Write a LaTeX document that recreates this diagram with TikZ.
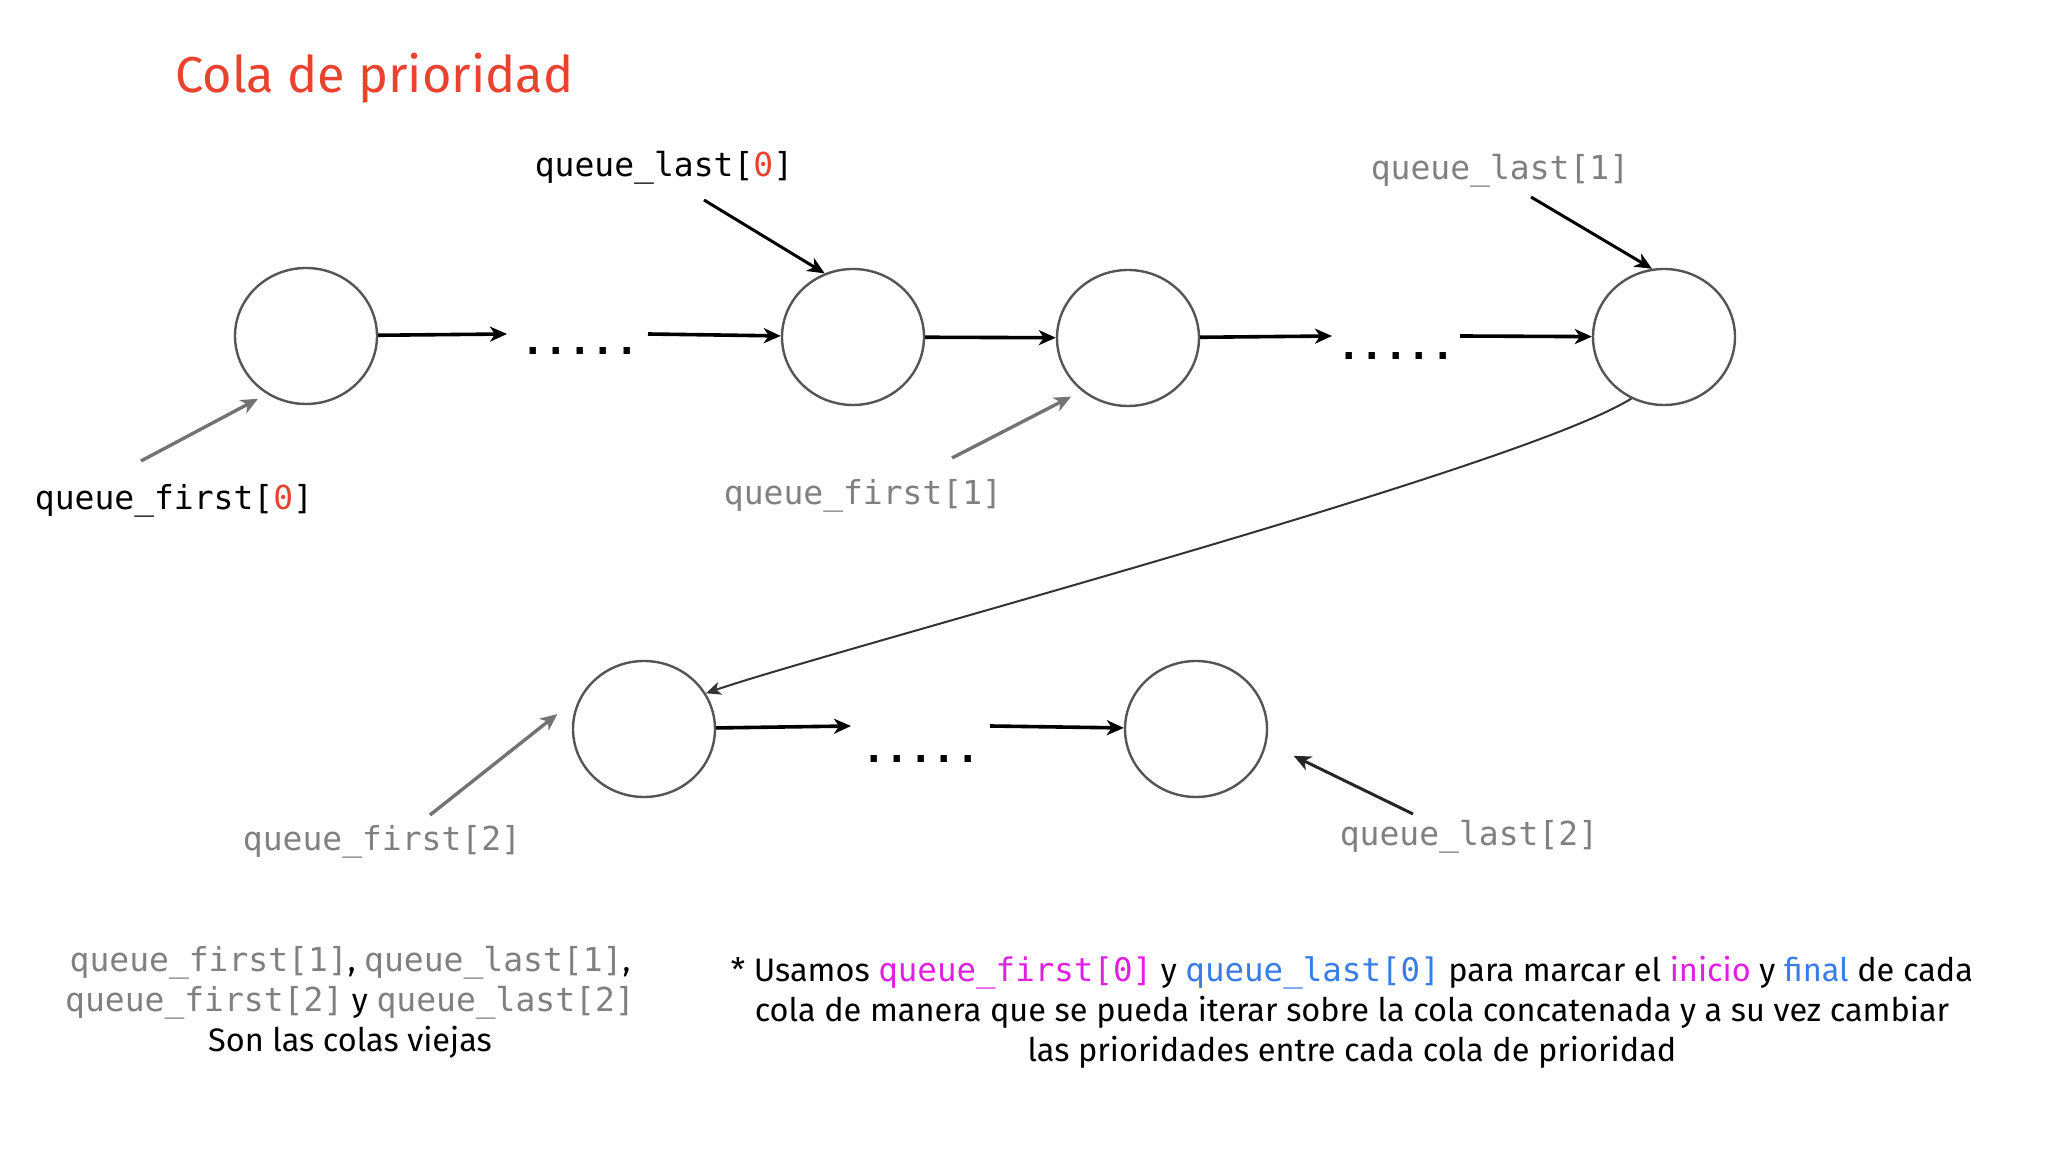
\documentclass[tikz,border=0pt]{standalone}
\usepackage{fontspec}
\setmainfont{Fira Sans}
\setmonofont{DejaVu Sans Mono}
\usetikzlibrary{arrows.meta,shapes.geometric}
\definecolor{TitleRed}{HTML}{E8432F}
\definecolor{IdxRed}{HTML}{E8432F}
\definecolor{OldGray}{HTML}{808080}
\definecolor{MarkPink}{HTML}{E01FE0}
\definecolor{MarkBlue}{HTML}{3A7CE6}
\definecolor{RingGray}{HTML}{555555}
\newcommand{\oldvar}[1]{\textcolor{OldGray}{\fontsize{33}{40}\ttfamily #1}}

\begin{document}
\begin{tikzpicture}[x=1pt,y=1pt,>={Stealth[length=17pt,width=15pt,inset=5pt]}]
\tikzset{
  elem/.style={ellipse,draw=RingGray,line width=2.4pt,minimum width=142pt,
               minimum height=136pt,inner sep=0pt},
  gap/.style={font=\ttfamily\bfseries\fontsize{39}{44}\selectfont,inner sep=0pt,anchor=base},
  next/.style={black,line width=3.6pt,->},
  ptr/.style={black,line width=3pt,->},
  oldptr/.style={black!55,line width=3.4pt,->},
  link/.style={black!80,line width=2pt,->,>={Stealth[length=15pt,width=13pt,inset=4pt]}},
  var/.style={font=\ttfamily\fontsize{33}{38}\selectfont,inner sep=0pt},
  oldvar/.style={var,text=OldGray},
  note/.style={font=\fontsize{32.5}{40}\selectfont,align=center,inner sep=0pt}
}
\useasboundingbox (0,0) rectangle (2048,1153);

% ---------- title --------------------------------------------------------
\node[anchor=base west,text=TitleRed,font=\fontsize{50.5}{55}\selectfont,inner sep=0pt]
  (title) at (175,1060) {Cola de prioridad};

% ---------- queue elements ----------------------------------------------
\node[elem] (c1) at (306,817) {};
\node[elem] (c2) at (853,816) {};
\node[elem] (c3) at (1128,815) {};
\node[elem] (c4) at (1664,816) {};
\node[elem] (c5) at (644,424) {};
\node[elem] (c6) at (1196,424) {};

% ---------- skipped elements ---------------------------------------------
\node[gap] (gap1) at (580,798) {.....};
\node[gap] (gap2) at (1396,793) {.....};
\node[gap] (gap3) at (921,390) {.....};
\coordinate (g1in)  at (507,819);
\coordinate (g1out) at (648,819);
\coordinate (g2in)  at (1332,817);
\coordinate (g2out) at (1460,817);
\coordinate (g3in)  at (851,427);
\coordinate (g3out) at (990,427);

\draw[next] (c1) -- (g1in);
\draw[next] (g1out) -- (c2);
\draw[next] (c2) -- (c3);
\draw[next] (c3) -- (g2in);
\draw[next] (g2out) -- (c4);
\draw[next] (c5) -- (g3in);
\draw[next] (g3out) -- (c6);

% concatenation: end of queue 1 feeds queue 2
\draw[link] (c4.242) to[out=212,in=19,looseness=0.35] (c5.30);

% ---------- pointers -----------------------------------------------------
\node[var] (ql0) at (664,985) {queue\_last[\textcolor{IdxRed}{0}]};
\node[oldvar] (ql1) at (1500,982) {queue\_last[1]};
\node[var] (qf0) at (174,652) {queue\_first[\textcolor{IdxRed}{0}]};
\node[oldvar] (qf1) at (863,657) {queue\_first[1]};
\node[oldvar] (qf2) at (382,311) {queue\_first[2]};
\node[oldvar] (ql2) at (1469,316) {queue\_last[2]};

\coordinate (ql0tail) at (704,953);
\coordinate (ql1tail) at (1531,956);
\coordinate (qf0tail) at (141,692);
\coordinate (qf1tail) at (952,695);
\coordinate (qf2tail) at (430,338);
\coordinate (ql2tail) at (1413,339);

\draw[ptr] (ql0tail) -- (c2.114);
\draw[ptr] (ql1tail) -- (c4.100);
\draw[oldptr,shorten >=10pt] (qf0tail) -- (c1.236);
\draw[oldptr,shorten >=12pt] (qf1tail) -- (c3.229);
\draw[oldptr,shorten >=30pt] (qf2tail) -- (c5.152);
\draw[ptr,black!85,shorten >=30pt] (ql2tail) -- (c6.349);

% ---------- notes --------------------------------------------------------
\node[note] (old) at (350,151)
  {\oldvar{queue\_first[1]}, \oldvar{queue\_last[1]},\\
   \oldvar{queue\_first[2]} y \oldvar{queue\_last[2]}\\
   Son las colas viejas};
\node[note] (usage) at (1352,141)
  {* Usamos \textcolor{MarkPink}{\texttt{queue\_first[0]}} y
   \textcolor{MarkBlue}{\texttt{queue\_last[0]}} para marcar el
   \textcolor{MarkPink}{inicio} y \textcolor{MarkBlue}{final} de cada\\
   cola de manera que se pueda iterar sobre la cola concatenada y a su vez cambiar\\
   las prioridades entre cada cola de prioridad};
\end{tikzpicture}
\end{document}
